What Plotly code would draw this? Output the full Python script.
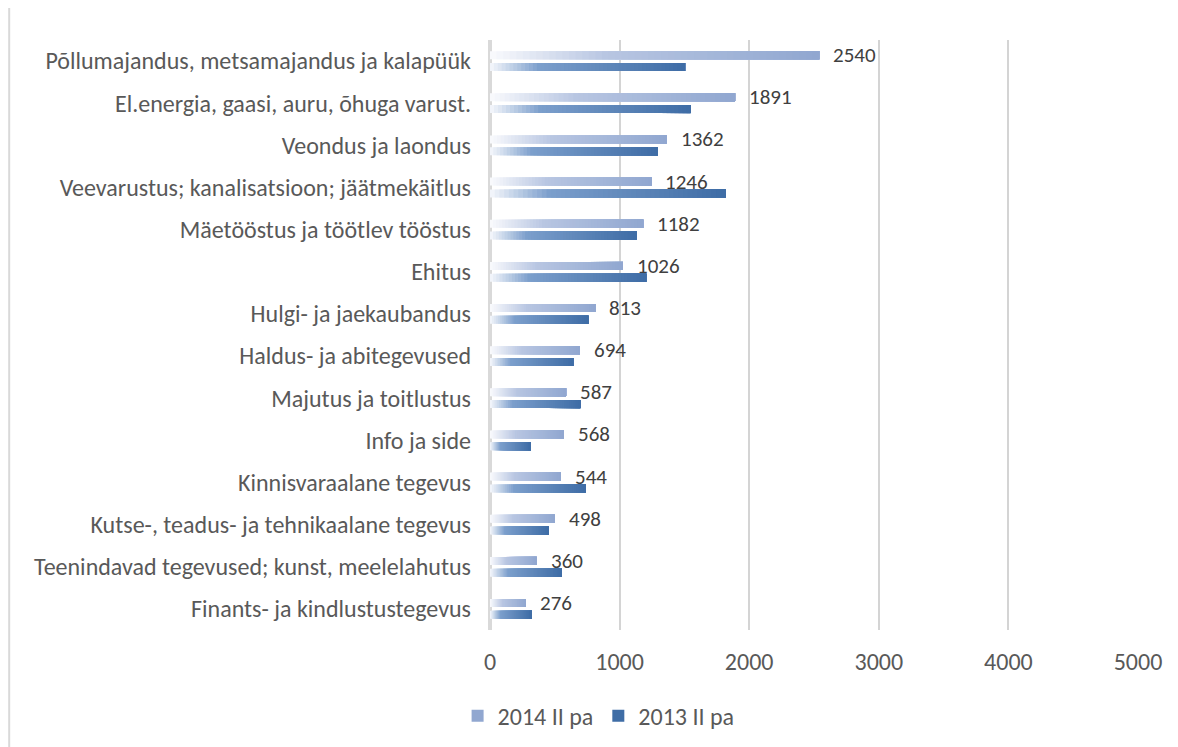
"""Horizontal bar chart: 2014 II pa vs 2013 II pa by sector, Excel-style gradient bars."""
import plotly.graph_objects as go

categories = [
    "Põllumajandus, metsamajandus ja kalapüük",
    "El.energia, gaasi, auru, õhuga varust.",
    "Veondus ja laondus",
    "Veevarustus; kanalisatsioon; jäätmekäitlus",
    "Mäetööstus ja töötlev tööstus",
    "Ehitus",
    "Hulgi- ja jaekaubandus",
    "Haldus- ja abitegevused",
    "Majutus ja toitlustus",
    "Info ja side",
    "Kinnisvaraalane tegevus",
    "Kutse-, teadus- ja tehnikaalane tegevus",
    "Teenindavad tegevused; kunst, meelelahutus",
    "Finants- ja kindlustustegevus",
]
values_2014 = [2540, 1891, 1362, 1246, 1182, 1026, 813, 694, 587, 568, 544, 498, 360, 276]
values_2013 = [1505, 1548, 1295, 1818, 1130, 1205, 758, 642, 697, 313, 738, 452, 553, 321]
x_ticks = [0, 1000, 2000, 3000, 4000, 5000]

FONT = "Calibri, Carlito, sans-serif"
TEXT = "#595959"
GRID = "#d4d4d4"

# gradient stops (position along bar, rgb)
GRAD_2014 = [(0.0, (250, 251, 253)), (0.35, (184, 198, 226)), (1.0, (144, 167, 208))]
GRAD_2013 = [(0.0, (246, 248, 252)), (0.25, (124, 159, 204)), (1.0, (62, 108, 165))]
N_SEG = 50


def grad_color(stops, t):
    for (p0, c0), (p1, c1) in zip(stops, stops[1:]):
        if t <= p1:
            f = (t - p0) / (p1 - p0)
            r, g, b = (round(a + (bb - a) * f) for a, bb in zip(c0, c1))
            return f"rgb({r},{g},{b})"
    r, g, b = stops[-1][1]
    return f"rgb({r},{g},{b})"


fig = go.Figure()

series = [
    ("2014 II pa", values_2014, GRAD_2014, -0.235),
    ("2013 II pa", values_2013, GRAD_2013, 0.045),
]
for name, vals, stops, offset in series:
    # each step runs from its start to the bar end, later steps painted on top -> no seams
    for k in range(N_SEG):
        fig.add_trace(go.Bar(
            y=categories,
            x=[v * (1 - k / N_SEG) for v in vals],
            base=[v * k / N_SEG for v in vals],
            orientation="h",
            offset=offset,
            width=0.19,
            marker=dict(color=grad_color(stops, (k + 0.5) / N_SEG), line=dict(width=0)),
            name=name,
            legendgroup=name,
            showlegend=(k == N_SEG - 1),
            hoverinfo="skip",
        ))

# data labels for 2014 only
for cat, v in zip(categories, values_2014):
    fig.add_annotation(
        x=v, y=cat, text=str(v), showarrow=False,
        xanchor="left", yanchor="middle", xshift=12, yshift=6,
        font=dict(family=FONT, size=21, color="#404040"),
    )

# outer chart border on the left
fig.add_shape(
    type="line", xref="paper", yref="paper",
    x0=-0.742, x1=-0.742, y0=-0.25, y1=1.1,
    line=dict(color="#d9d9d9", width=2),
)

fig.update_xaxes(
    range=[0, 5000], tickvals=x_ticks, ticktext=[str(t) for t in x_ticks],
    showgrid=True, gridcolor=GRID, gridwidth=2,
    zeroline=True, zerolinecolor="#d9d9d9", zerolinewidth=4,
    showline=False, ticks="", ticklabelstandoff=15,
    tickfont=dict(family=FONT, size=24, color=TEXT),
)
fig.update_yaxes(
    autorange="reversed", showgrid=False, showline=False, ticks="",
    ticklabelstandoff=18,
    tickfont=dict(family=FONT, size=24, color=TEXT),
)

fig.update_layout(
    width=1178, height=747,
    margin=dict(l=482, r=48, t=32, b=125),
    barmode="overlay",
    plot_bgcolor="white", paper_bgcolor="white",
    font=dict(family=FONT, color=TEXT),
    legend=dict(
        orientation="h", x=-0.05, xanchor="left", y=-0.146, yanchor="middle",
        font=dict(family=FONT, size=24, color=TEXT),
        traceorder="normal", itemwidth=30,
    ),
)

fig.write_html("out.html")
